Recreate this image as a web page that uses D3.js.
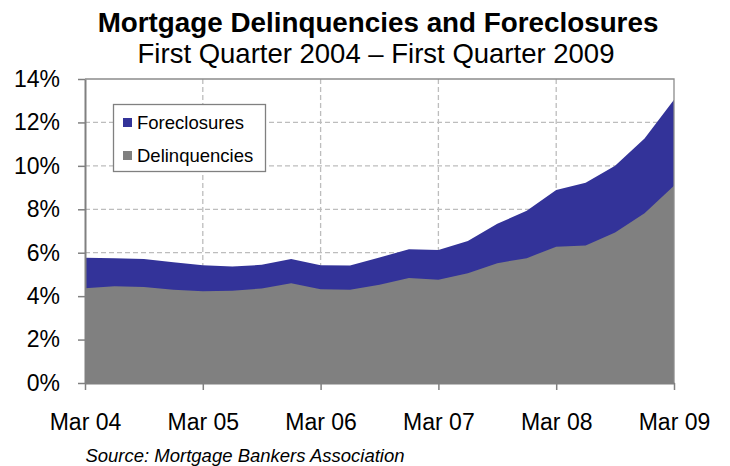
<!DOCTYPE html>
<html>
<head>
<meta charset="utf-8">
<script src="https://cdn.jsdelivr.net/npm/d3@7"></script>
<style>
  html, body { margin: 0; padding: 0; background: #fff; }
  svg { display: block; font-family: "Liberation Sans", Arial, sans-serif; }
</style>
</head>
<body>
<svg id="chart" width="730" height="466"></svg>
<script>
// quarters Q1 2004 .. Q1 2009 (21 points), values in %
const quarters = d3.range(0, 21);
const delinquencies = [4.36, 4.46, 4.42, 4.29, 4.22, 4.25, 4.35, 4.59, 4.32, 4.29, 4.52,
  4.84, 4.75, 5.05, 5.52, 5.75, 6.28, 6.33, 6.93, 7.82, 9.08];
const foreclosures = [1.41, 1.29, 1.29, 1.27, 1.20, 1.11, 1.09, 1.12, 1.10, 1.12, 1.26,
  1.32, 1.38, 1.49, 1.81, 2.18, 2.61, 2.89, 3.07, 3.44, 3.96];
const xTicks = [0, 4, 8, 12, 16, 20];
const xTickLabels = ["Mar 04", "Mar 05", "Mar 06", "Mar 07", "Mar 08", "Mar 09"];
const yTicks = [0, 2, 4, 6, 8, 10, 12, 14];

(function () {
  const svg = d3.select("#chart");
  const pLeft = 85, pRight = 674, pTop = 79, pBottom = 383;

  const x = d3.scaleLinear().domain([0, 20]).range([pLeft, pRight]);
  const y = d3.scaleLinear().domain([0, 14]).range([pBottom, pTop]);

  const rows = quarters.map((q, i) => ({
    q,
    del: delinquencies[i],
    tot: delinquencies[i] + foreclosures[i]
  }));

  // gridlines
  const grid = svg.append("g");
  grid.selectAll(".hg")
    .data(yTicks.filter(d => d > 0 && d < 14))
    .enter().append("line")
      .attr("x1", pLeft).attr("x2", pRight)
      .attr("y1", d => y(d)).attr("y2", d => y(d))
      .attr("stroke", "#bdbdbd").attr("stroke-width", 1.3)
      .attr("stroke-dasharray", "5,3");
  grid.selectAll(".vg")
    .data(xTicks.filter(d => d > 0 && d < 20))
    .enter().append("line")
      .attr("x1", d => x(d)).attr("x2", d => x(d))
      .attr("y1", pTop).attr("y2", pBottom)
      .attr("stroke", "#bdbdbd").attr("stroke-width", 1.3)
      .attr("stroke-dasharray", "5,3");

  // areas (stacked: delinquencies under foreclosures)
  const areaTot = d3.area()
    .x(d => x(d.q))
    .y0(() => y(0))
    .y1(d => y(d.tot));
  const areaDel = d3.area()
    .x(d => x(d.q))
    .y0(() => y(0))
    .y1(d => y(d.del));

  svg.append("path").datum(rows).attr("d", areaTot).attr("fill", "#333399");
  svg.append("path").datum(rows).attr("d", areaDel).attr("fill", "#808080");

  // plot border top/right
  svg.append("path")
    .attr("d", `M${pLeft},${pTop}H${pRight}V${pBottom}`)
    .attr("fill", "none").attr("stroke", "#8c8c8c").attr("stroke-width", 1.3);

  // axes
  const yAxis = svg.append("g")
    .attr("transform", `translate(${pLeft},0)`)
    .call(d3.axisLeft(y).tickValues(yTicks).tickFormat(d => d + "%").tickSize(7).tickPadding(18).tickSizeOuter(0));
  const xAxis = svg.append("g")
    .attr("transform", `translate(0,${pBottom})`)
    .call(d3.axisBottom(x).tickValues(xTicks).tickFormat((d, i) => xTickLabels[i]).tickSize(7).tickPadding(24).tickSizeOuter(0));

  [yAxis, xAxis].forEach(a => {
    a.select(".domain").attr("stroke", "#808080").attr("stroke-width", 2);
    a.selectAll(".tick line").attr("stroke", "#808080").attr("stroke-width", 1.5);
    a.selectAll("text").attr("fill", "#000").style("font-size", "23px")
      .style("font-family", "'Liberation Sans', Arial, sans-serif");
  });

  // titles
  svg.append("text")
    .attr("x", 378).attr("y", 32)
    .attr("text-anchor", "middle")
    .style("font-size", "27.8px").style("font-weight", "bold")
    .text("Mortgage Delinquencies and Foreclosures");
  svg.append("text")
    .attr("x", 376).attr("y", 63)
    .attr("text-anchor", "middle")
    .style("font-size", "27.5px")
    .text("First Quarter 2004 \u2013 First Quarter 2009");

  // legend
  const lg = svg.append("g");
  lg.append("rect")
    .attr("x", 113.5).attr("y", 104.5).attr("width", 152).attr("height", 67)
    .attr("fill", "#fff").attr("stroke", "#808080").attr("stroke-width", 1.3);
  const legendItems = [["Foreclosures", "#333399"], ["Delinquencies", "#808080"]];
  legendItems.forEach(([name, col], i) => {
    lg.append("rect")
      .attr("x", 123).attr("y", 118 + i * 33).attr("width", 9).attr("height", 9)
      .attr("fill", col);
    lg.append("text")
      .attr("x", 137).attr("y", 129 + i * 33)
      .style("font-size", "18.5px")
      .text(name);
  });

  // source
  svg.append("text")
    .attr("x", 245).attr("y", 462)
    .attr("text-anchor", "middle")
    .style("font-size", "18.5px").style("font-style", "italic")
    .text("Source: Mortgage Bankers Association");
})();
</script>
</body>
</html>
